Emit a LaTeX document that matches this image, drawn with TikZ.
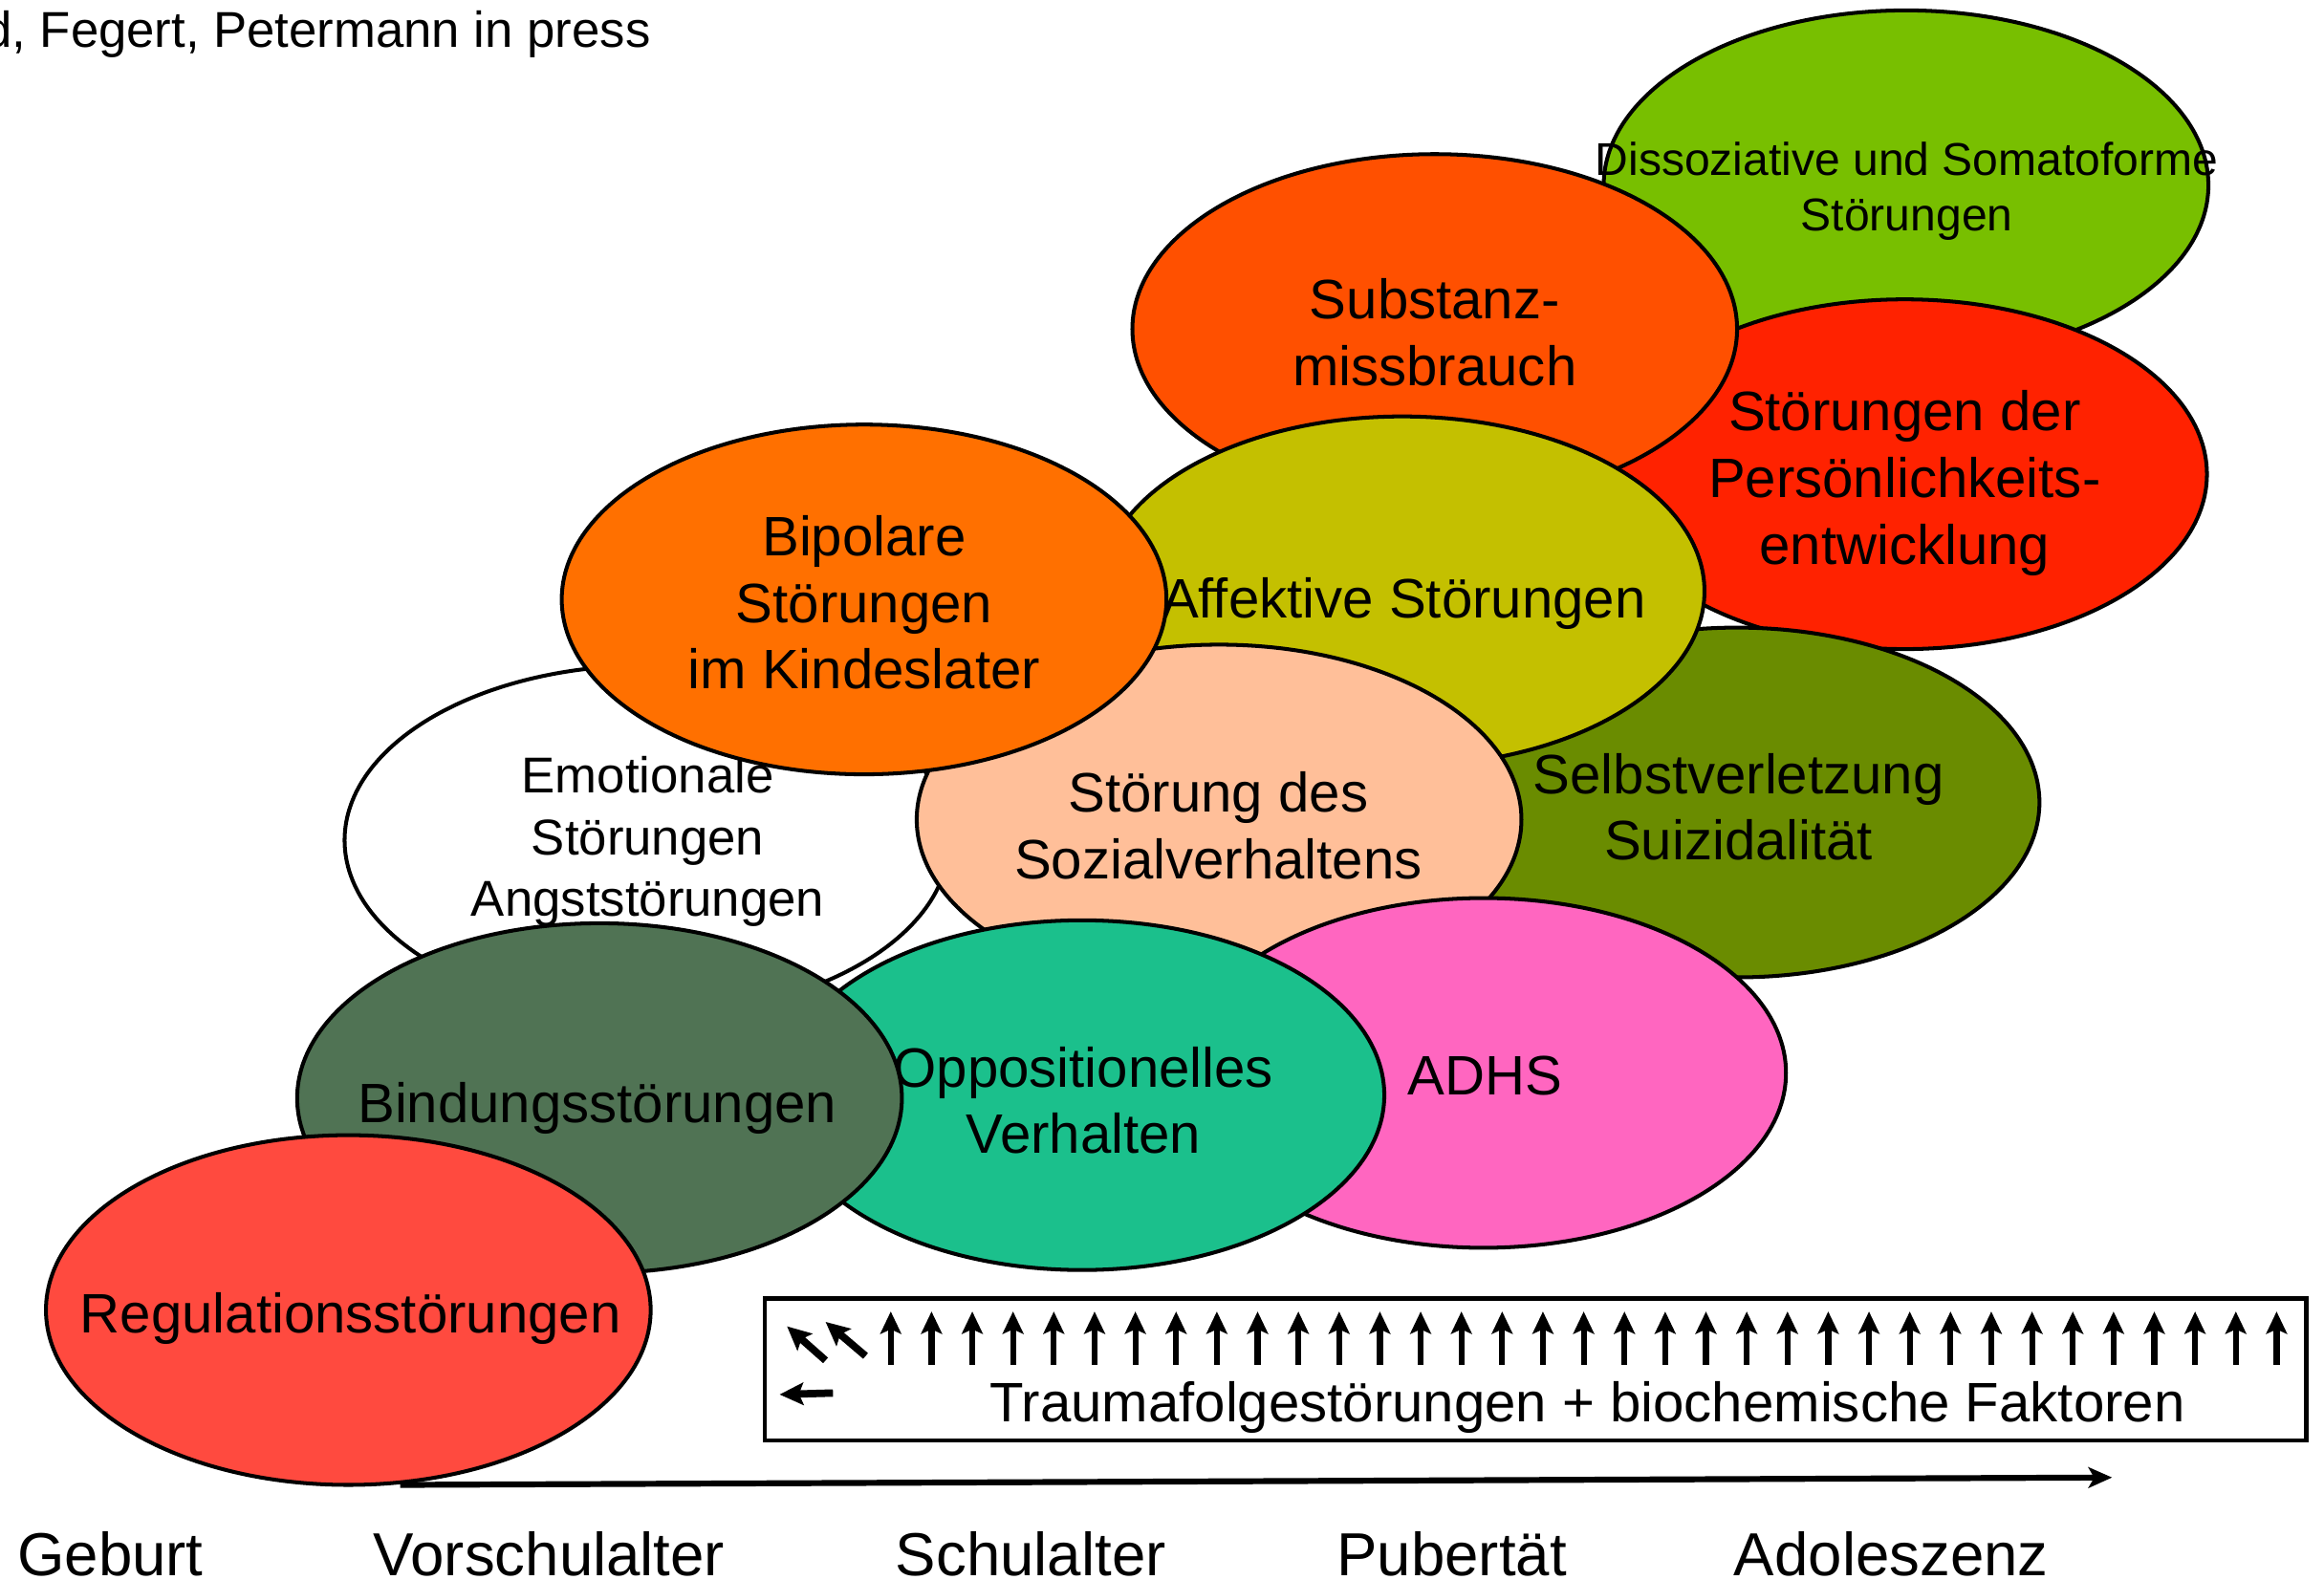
\documentclass[tikz,border=0pt]{standalone}
\usepackage{fontspec}
\setmainfont{Liberation Sans}
\usetikzlibrary{shapes.geometric,arrows.meta}

\definecolor{cDiss}{HTML}{78BF00}
\definecolor{cSubst}{HTML}{FF5000}
\definecolor{cPers}{HTML}{FF2200}
\definecolor{cAff}{HTML}{C4C000}
\definecolor{cBip}{HTML}{FF7000}
\definecolor{cSelbst}{HTML}{6A8C00}
\definecolor{cSozial}{HTML}{FFBF99}
\definecolor{cBind}{HTML}{507354}
\definecolor{cOpp}{HTML}{1BC08C}
\definecolor{cAdhs}{HTML}{FF66C0}
\definecolor{cReg}{HTML}{FF4A3F}

\begin{document}
\begin{tikzpicture}[x=1pt,y=-1pt,
  blob/.style={ellipse, draw=black, line width=2.6pt, minimum width=408pt,
    minimum height=236pt, inner sep=0pt, outer sep=0pt},
  big/.style={align=center, inner sep=0pt, font=\fontsize{37.5}{45}\selectfont},
  mid/.style={align=center, inner sep=0pt, font=\fontsize{34}{41.5}\selectfont},
  tiny/.style={align=center, inner sep=0pt, font=\fontsize{31}{37}\selectfont},
  age/.style={anchor=base, inner sep=0pt, font=\fontsize{41}{48}\selectfont},
  uparrow/.style={line width=4pt, -{Stealth[length=15pt,width=14pt,inset=3pt]}},
  fatarrow/.style={line width=5pt, -{Stealth[length=16pt,width=15pt,inset=3pt]}},
  timeline/.style={line width=4pt, -{Stealth[length=16pt,width=14pt,inset=4pt]}}]

\fill[white] (0,0) rectangle (1568,1066);
\useasboundingbox (0,0) rectangle (1568,1066);

% citation line
\node[anchor=base west, inner sep=0pt, font=\fontsize{34}{40}\selectfont] (cite)
  at (-11,32) {d, Fegert, Petermann in press};

% disorders, back to front
\node[blob, fill=cDiss] (diss) at (1286,125) {};
\node[tiny] (tdiss) at (1286.5,129) {Dissoziative und Somatoforme\\Störungen};

\node[blob, fill=cPers] (pers) at (1285,320) {};
\node[big] (tpers) at (1285,326) {Störungen der\\Persönlichkeits-\\entwicklung};

\node[blob, fill=cSubst] (subst) at (968,222) {};
\node[big] (tsubst) at (968,224.5) {Substanz-\\missbrauch};

\node[blob, fill=cSelbst] (selbst) at (1172,541.5) {};
\node[big] (tselbst) at (1173,544.5) {Selbstverletzung\\Suizidalität};

\node[blob, fill=cAff] (aff) at (946,399) {};
\node[big] (taff) at (947,407) {Affektive Störungen};

\node[blob, fill=white] (emo) at (436.5,567) {};
\node[mid] (temo) at (437,568) {Emotionale\\Störungen\\Angststörungen};

\node[blob, fill=cSozial] (sozial) at (822.5,553) {};
\node[big] (tsozial) at (822,557) {Störung des\\Sozialverhaltens};

\node[blob, fill=cBip] (bip) at (583,404.5) {};
\node[big] (tbip) at (583,406.5) {Bipolare\\Störungen\\im Kindeslater};

\node[blob, fill=cAdhs] (adhs) at (1001,724) {};
\node[big] (tadhs) at (1002,726) {ADHS};

\node[blob, fill=cOpp] (opp) at (730,739) {};
\node[big] (topp) at (731,742.5) {Oppositionelles\\Verhalten};

\node[blob, fill=cBind] (bind) at (404.5,741) {};
\node[big] (tbind) at (403,748) {Bindungsstörungen};

\node[blob, fill=cReg] (reg) at (235,884) {};
\node[big] (treg) at (236.5,890) {Regulationsstörungen};

% trauma box with arrows
\node[draw=black, line width=3.2pt, minimum width=1040pt, minimum height=96pt,
  inner sep=0pt] (trauma) at (1036,924) {};
\node[big] (ttrauma) at (1071,950) {Traumafolgestörungen + biochemische Faktoren};

\foreach \i in {0,...,34}
  \draw[uparrow] ({601+27.5*\i},921) -- ++(0,-36);
\draw[fatarrow] (557,918) -- (531,895);
\draw[fatarrow] (584,915) -- (557,892);
\draw[fatarrow] (562,940) -- (526,941);

% time axis
\coordinate (tstart) at (270,1002);
\coordinate (tend) at (1425,997);
\draw[timeline] (tstart) -- (tend);

\node[age] (geburt) at (74.5,1063) {Geburt};
\node[age] (vorschule) at (370.5,1063) {Vorschulalter};
\node[age] (schule) at (695.5,1063) {Schulalter};
\node[age] (pubertaet) at (979.5,1063) {Pubertät};
\node[age] (adoleszenz) at (1276,1063) {Adoleszenz};
\end{tikzpicture}
\end{document}
